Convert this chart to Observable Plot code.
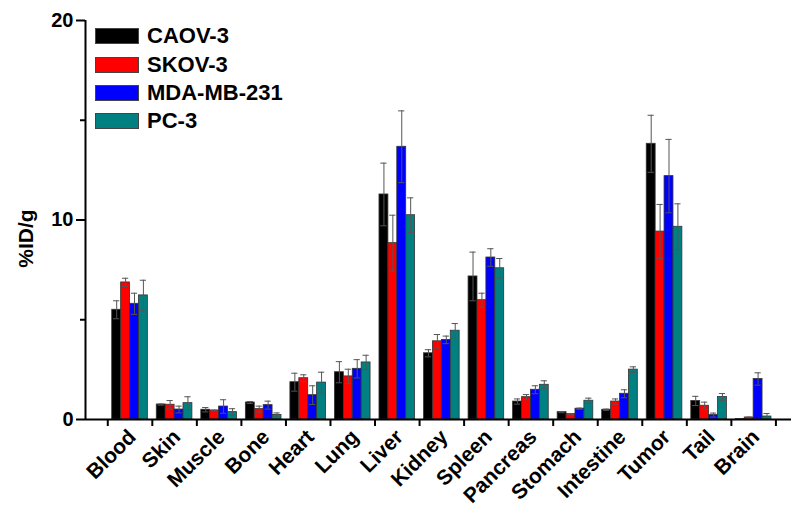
<!DOCTYPE html>
<html>
<head>
<meta charset="utf-8">
<script src="https://cdn.jsdelivr.net/npm/d3@7"></script>
<script src="https://cdn.jsdelivr.net/npm/@observablehq/plot@0.6"></script>
<style>
  body { margin: 0; background: #fff; }
  #wrap { position: relative; width: 791px; height: 510px; font-family: "Liberation Sans", Arial, sans-serif; }
  #legend { position: absolute; left: 95px; top: 22px; }
  .row { display: flex; align-items: center; height: 28.4px; }
  .sw { width: 42px; height: 14px; border: 1px solid #444; margin-right: 8px; }
  .lab { font-weight: bold; font-size: 22px; color: #000; line-height: 16px; }
</style>
</head>
<body>
<div id="wrap"><div id="legend"></div></div>
<script>
const organs = ["Blood","Skin","Muscle","Bone","Heart","Lung","Liver","Kidney","Spleen","Pancreas","Stomach","Intestine","Tumor","Tail","Brain"];
const seriesNames = ["CAOV-3","SKOV-3","MDA-MB-231","PC-3"];
const seriesColors = ["#000000","#ff0000","#0000ff","#008080"];
const caov3    = [5.50, 0.75, 0.49, 0.85, 1.87, 2.37, 11.28, 3.32, 7.17, 0.90, 0.37, 0.49, 13.82, 0.93, 0.02];
const caov3Err = [0.45, 0.03, 0.11, 0.05, 0.45, 0.53, 1.57, 0.18, 1.22, 0.13, 0.03, 0.03, 1.43, 0.23, 0.01];
const skov3    = [6.87, 0.74, 0.45, 0.52, 2.07, 2.16, 8.84, 3.92, 5.98, 1.12, 0.27, 0.90, 9.42, 0.69, 0.10];
const skov3Err = [0.21, 0.21, 0.02, 0.15, 0.17, 0.36, 1.40, 0.34, 0.35, 0.13, 0.03, 0.13, 1.36, 0.18, 0.02];
const mda      = [5.80, 0.50, 0.65, 0.72, 1.22, 2.54, 13.67, 3.99, 8.12, 1.49, 0.54, 1.29, 12.20, 0.22, 2.03];
const mdaErr   = [0.53, 0.17, 0.34, 0.20, 0.47, 0.46, 1.80, 0.19, 0.44, 0.20, 0.03, 0.20, 1.84, 0.10, 0.31];
const pc3      = [6.22, 0.82, 0.37, 0.23, 1.85, 2.86, 10.24, 4.45, 7.58, 1.74, 0.94, 2.50, 9.66, 1.13, 0.15];
const pc3Err   = [0.76, 0.32, 0.17, 0.10, 0.52, 0.36, 0.87, 0.36, 0.49, 0.20, 0.13, 0.14, 1.15, 0.17, 0.15];
const yTicks = [0, 10, 20];
const yMinorTicks = [5, 15];
const yLabel = "%ID/g";

const values = [caov3, skov3, mda, pc3];
const errors = [caov3Err, skov3Err, mdaErr, pc3Err];
const rows = [];
organs.forEach((organ, i) => {
  seriesNames.forEach((s, j) => {
    rows.push({organ, i, series: s, j, value: values[j][i], err: errors[j][i]});
  });
});
const organRows = organs.map((name, i) => ({name, i}));

const barW = 0.2;
const left = d => d.i - 2 * barW + d.j * barW;
const center = d => left(d) + barW / 2;
const capHalf = 0.07;
const xMin = -1;

const plot = Plot.plot({
  width: 791,
  height: 510,
  marginLeft: 85,
  marginRight: 0,
  marginTop: 20,
  marginBottom: 91,
  style: {fontFamily: '"Liberation Sans", Arial, sans-serif', fontWeight: "bold", color: "#000", background: "#fff"},
  x: {domain: [xMin, 14.85]},
  y: {domain: [0, 20]},
  color: {domain: seriesNames, range: seriesColors},
  marks: [
    Plot.rect(rows, {x1: left, x2: d => left(d) + barW, y1: 0, y2: "value", fill: "series", stroke: "#333", strokeWidth: 0.8}),
    Plot.ruleX(rows, {x: center, y1: d => d.value - d.err, y2: d => d.value + d.err, stroke: "#555", strokeWidth: 1}),
    Plot.ruleY(rows, {y: d => d.value + d.err, x1: d => center(d) - capHalf, x2: d => center(d) + capHalf, stroke: "#555", strokeWidth: 1}),
    Plot.ruleY(rows, {y: d => d.value - d.err, x1: d => center(d) - capHalf, x2: d => center(d) + capHalf, stroke: "#555", strokeWidth: 1}),
    Plot.ruleY([0], {stroke: "#000", strokeWidth: 2}),
    Plot.ruleX([xMin], {stroke: "#000", strokeWidth: 2}),
    Plot.axisY({ticks: yTicks, tickSize: 9, tickPadding: 3, fontSize: 20, strokeWidth: 2, label: null}),
    Plot.axisY({ticks: yMinorTicks, tickSize: 5, tickFormat: () => "", strokeWidth: 2, label: null}),
    Plot.axisX({ticks: d3.range(16).map(k => k - 0.5), tickSize: 7, tickFormat: () => "", strokeWidth: 2, label: null}),
    Plot.text(organRows, {x: "i", frameAnchor: "bottom", text: "name", rotate: -45, textAnchor: "end", lineAnchor: "top", dx: -3.5, dy: 8.2, fontSize: 21, fontWeight: "bold", fill: "#000"}),
    Plot.text([yLabel], {frameAnchor: "left", rotate: -90, textAnchor: "middle", lineAnchor: "middle", dx: -59, dy: 18.5, fontSize: 21, fontWeight: "bold", fill: "#000"})
  ]
});
const wrap = document.getElementById("wrap");
wrap.insertBefore(plot, wrap.firstChild);

const legend = d3.select("#legend");
seriesNames.forEach((s, j) => {
  const row = legend.append("div").attr("class", "row");
  row.append("div").attr("class", "sw").style("background", seriesColors[j]);
  row.append("div").attr("class", "lab").text(s);
});
</script>
</body>
</html>
